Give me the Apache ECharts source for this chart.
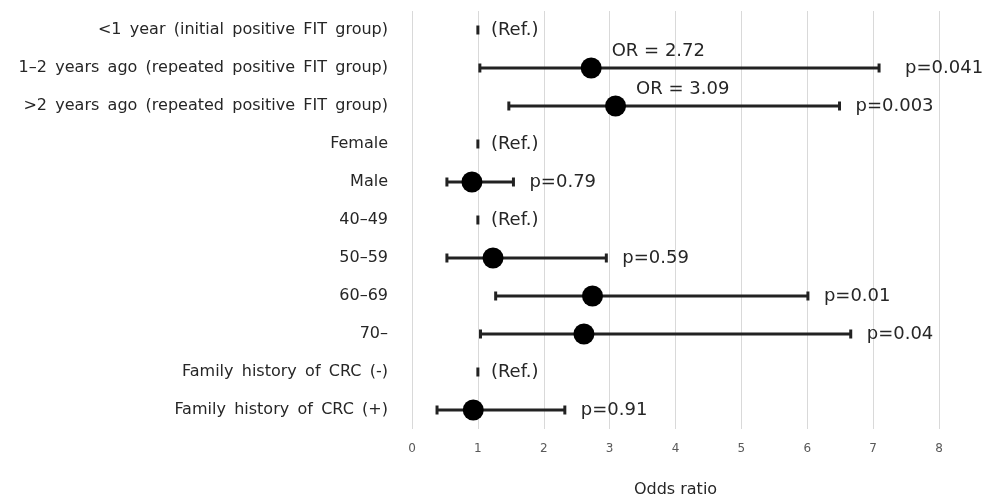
<!DOCTYPE html>
<html>
<head>
<meta charset="utf-8">
<script src="https://cdn.jsdelivr.net/npm/echarts@6/dist/echarts.min.js"></script>
<style>html,body{margin:0;padding:0;background:#fff;}#chart{width:989px;height:503px;}</style>
</head>
<body>
<div id="chart"></div>
<script>
const categories = [
  '<1 year (initial positive FIT group)',
  '1\u20132 years ago (repeated positive FIT group)',
  '>2 years ago (repeated positive FIT group)',
  'Female',
  'Male',
  '40\u201349',
  '50\u201359',
  '60\u201369',
  '70\u2013',
  'Family history of CRC (-)',
  'Family history of CRC (+)'
];
const isReference = [true, false, false, true, false, true, false, false, false, true, false];
const oddsRatio = [1, 2.72, 3.09, 1, 0.91, 1, 1.23, 2.74, 2.61, 1, 0.93];
const ciLow =     [null, 1.03, 1.47, null, 0.53, null, 0.53, 1.27, 1.04, null, 0.38];
const ciHigh =    [null, 7.09, 6.49, null, 1.54, null, 2.95, 6.01, 6.66, null, 2.32];
const pLabels = ['', 'p=0.041', 'p=0.003', '', 'p=0.79', '', 'p=0.59', 'p=0.01', 'p=0.04', '', 'p=0.91'];
const orLabels = ['', 'OR = 2.72', 'OR = 3.09', '', '', '', '', '', '', '', ''];
const refLabel = '(Ref.)';
const xTicks = [0, 1, 2, 3, 4, 5, 6, 7, 8];

const FONT = 'DejaVu Sans';
const chart = echarts.init(document.getElementById('chart'));

const ciData = categories.map((c, i) => [i, ciLow[i], ciHigh[i], oddsRatio[i], isReference[i] ? 1 : 0]);
const pointData = [];
categories.forEach((c, i) => { if (!isReference[i]) pointData.push([oddsRatio[i], i, orLabels[i]]); });

chart.setOption({
  animation: false,
  grid: { left: 412, right: 50, top: 11, bottom: 74, outerBoundsMode: 'none', containLabel: false },
  xAxis: {
    type: 'value', min: xTicks[0], max: xTicks[xTicks.length - 1], interval: 1,
    axisLine: { show: false }, axisTick: { show: false },
    splitLine: { show: true, lineStyle: { color: '#d9d9d9', width: 1 } },
    axisLabel: { color: '#595959', fontFamily: FONT, fontSize: 12, margin: 14 },
    name: 'Odds ratio', nameLocation: 'middle', nameGap: 53,
    nameTextStyle: { color: '#262626', fontFamily: FONT, fontSize: 16 }
  },
  yAxis: {
    type: 'category', data: categories, inverse: true,
    axisLine: { show: false }, axisTick: { show: false }, splitLine: { show: false },
    axisLabel: {
      color: '#262626', fontFamily: FONT, fontSize: 16, margin: 24,
      formatter: function (v) { return v.replace(/ /g, ' \u2009'); }
    }
  },
  series: [
    {
      type: 'custom',
      data: ciData,
      encode: { x: [1, 2, 3], y: 0 },
      renderItem: function (params, api) {
        const idx = api.value(0);
        const ref = api.value(4);
        const y = api.coord([0, idx])[1];
        const style = { fill: '#222' };
        const children = [];
        if (ref) {
          const x = api.coord([1, idx])[0];
          children.push({ type: 'rect', shape: { x: x - 1.5, y: y - 4.5, width: 3, height: 9 }, style: style });
          children.push({ type: 'text', style: { x: x + 13, y: y, text: refLabel, fill: '#262626', font: '18px "DejaVu Sans"', verticalAlign: 'middle', align: 'left' } });
        } else {
          const x1 = api.coord([api.value(1), idx])[0];
          const x2 = api.coord([api.value(2), idx])[0];
          children.push({ type: 'line', shape: { x1: x1, y1: y, x2: x2, y2: y }, style: { stroke: '#222', lineWidth: 3 } });
          children.push({ type: 'rect', shape: { x: x1 - 1.5, y: y - 4.5, width: 3, height: 9 }, style: style });
          children.push({ type: 'rect', shape: { x: x2 - 1.5, y: y - 4.5, width: 3, height: 9 }, style: style });
          children.push({ type: 'text', style: { x: x2 + (idx === 1 ? 26 : 16), y: y, text: pLabels[idx], fill: '#262626', font: '18px "DejaVu Sans"', verticalAlign: 'middle', align: 'left' } });
        }
        return { type: 'group', children: children };
      },
      z: 2
    },
    {
      type: 'scatter',
      data: pointData,
      symbol: 'circle', symbolSize: 21,
      itemStyle: { color: '#000', opacity: 1 },
      label: {
        show: true, position: [31, -15], align: 'left', verticalAlign: 'top',
        formatter: function (p) { return p.data[2]; },
        color: '#262626', fontFamily: FONT, fontSize: 18
      },
      z: 3
    }
  ]
});
</script>
</body>
</html>
